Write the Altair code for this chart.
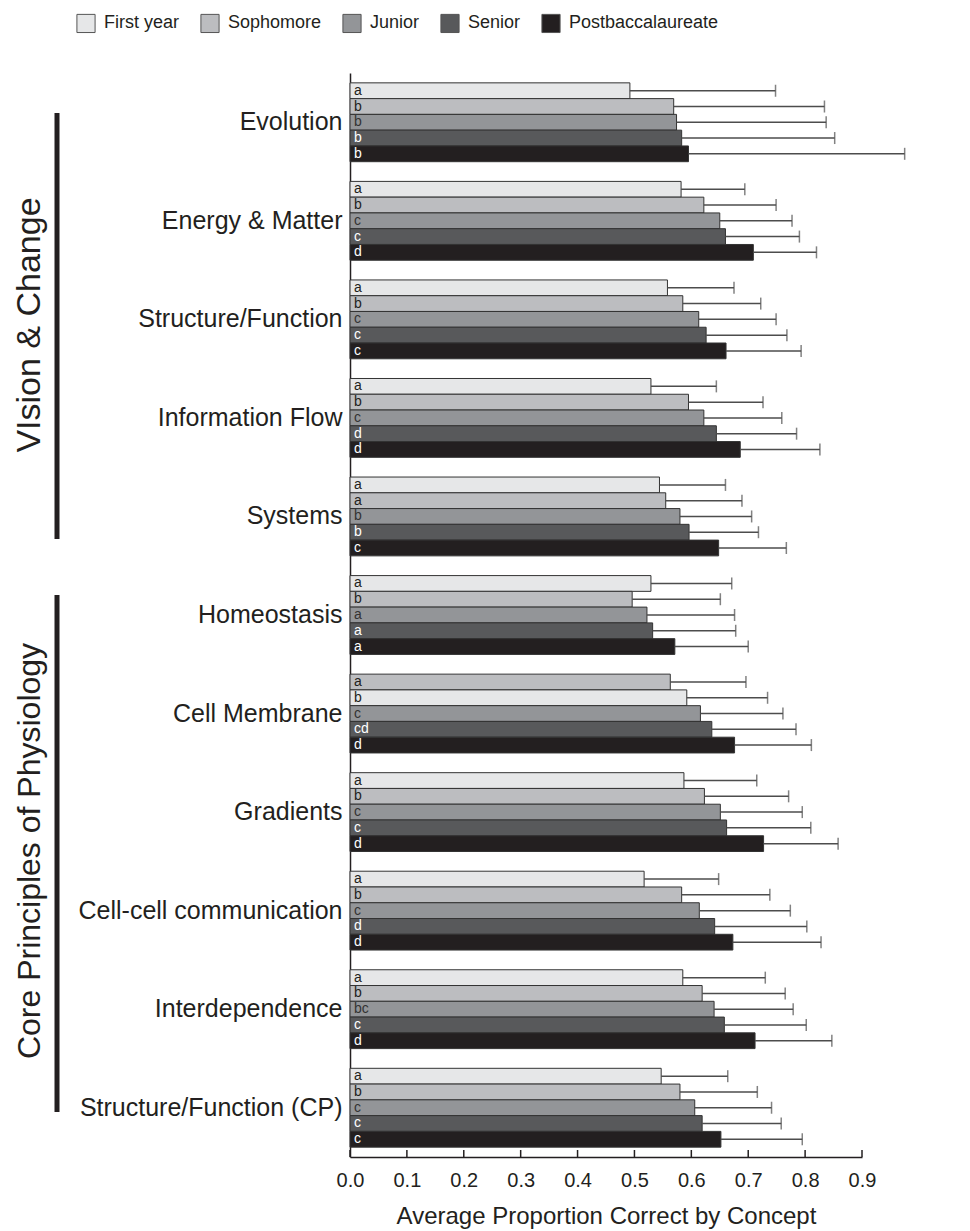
import altair as alt
import pandas as pd

# ---------------- data ----------------
concepts = ["Evolution", "Energy & Matter", "Structure/Function", "Information Flow", "Systems",
            "Homeostasis", "Cell Membrane", "Gradients", "Cell-cell communication",
            "Interdependence", "Structure/Function (CP)"]
classes = ["First year", "Sophomore", "Junior", "Senior", "Postbaccalaureate"]

# class of each bar (top to bottom) inside each concept group
bar_classes = [
    classes, classes, classes, classes, classes, classes,
    ["Sophomore", "First year", "Junior", "Senior", "Postbaccalaureate"],
    classes, classes, classes, classes,
]
means = [
    [0.492, 0.569, 0.574, 0.583, 0.595],
    [0.582, 0.622, 0.650, 0.660, 0.709],
    [0.558, 0.585, 0.613, 0.626, 0.661],
    [0.529, 0.595, 0.622, 0.644, 0.686],
    [0.544, 0.555, 0.580, 0.596, 0.648],
    [0.529, 0.496, 0.522, 0.532, 0.571],
    [0.563, 0.592, 0.616, 0.636, 0.676],
    [0.587, 0.623, 0.651, 0.662, 0.727],
    [0.517, 0.583, 0.614, 0.641, 0.673],
    [0.585, 0.619, 0.640, 0.658, 0.712],
    [0.547, 0.580, 0.606, 0.619, 0.652],
]
upper = [
    [0.748, 0.834, 0.837, 0.852, 0.975],
    [0.694, 0.749, 0.777, 0.790, 0.820],
    [0.675, 0.722, 0.749, 0.768, 0.793],
    [0.644, 0.726, 0.759, 0.785, 0.826],
    [0.660, 0.689, 0.706, 0.718, 0.767],
    [0.671, 0.651, 0.676, 0.678, 0.700],
    [0.696, 0.734, 0.761, 0.784, 0.811],
    [0.715, 0.771, 0.795, 0.810, 0.858],
    [0.648, 0.738, 0.774, 0.803, 0.828],
    [0.730, 0.765, 0.779, 0.802, 0.847],
    [0.664, 0.716, 0.741, 0.758, 0.795],
]
letters = [
    ["a", "b", "b", "b", "b"],
    ["a", "b", "c", "c", "d"],
    ["a", "b", "c", "c", "c"],
    ["a", "b", "c", "d", "d"],
    ["a", "a", "b", "b", "c"],
    ["a", "b", "a", "a", "a"],
    ["a", "b", "c", "cd", "d"],
    ["a", "b", "c", "c", "d"],
    ["a", "b", "c", "d", "d"],
    ["a", "b", "bc", "c", "d"],
    ["a", "b", "c", "c", "c"],
]
x_ticks = [0.0, 0.1, 0.2, 0.3, 0.4, 0.5, 0.6, 0.7, 0.8, 0.9]
group_titles = ["VIsion & Change", "Core Principles of Physiology"]

# ---------------- table ----------------
rows = []
for ci, c in enumerate(concepts):
    for r in range(5):
        rows.append({"concept": c, "row": r, "cls": bar_classes[ci][r],
                     "mean": means[ci][r], "upper": upper[ci][r], "letter": letters[ci][r]})
df = pd.DataFrame(rows)

FONT = "Liberation Sans"
W, H = 512, 1084
fill_colors = ["#e6e7e8", "#bcbdc0", "#939598", "#58595b", "#231f20"]
text_colors = ["#231f20", "#231f20", "#333333", "#ffffff", "#ffffff"]

y_enc = alt.Y("concept:N", sort=concepts,
              scale=alt.Scale(paddingInner=0.2, paddingOuter=0.1),
              axis=alt.Axis(title=None, labelFontSize=25, labelPadding=8, ticks=False,
                            labelLimit=0,
                            labelColor="#231f20", domainColor="#231f20", domainWidth=1.5,
                            labelFont=FONT))
yoff = alt.YOffset("row:O", scale=alt.Scale(paddingInner=0, paddingOuter=0))
x_scale = alt.Scale(domain=[0, 0.9], nice=False, zero=True)

base = alt.Chart(df)

bars = base.mark_bar(stroke="#333333", strokeWidth=1).encode(
    x=alt.X("mean:Q", scale=x_scale,
            axis=alt.Axis(values=x_ticks, format=".1f", ticks=False, grid=False,
                          labelFlush=False, labelOverlap=False,
                          labelFontSize=20, labelPadding=13, labelColor="#231f20",
                          labelFont=FONT,
                          title="Average Proportion Correct by Concept",
                          titleFontSize=24, titleFontWeight="normal", titleFont=FONT,
                          titleColor="#231f20", titlePadding=14,
                          domainColor="#231f20", domainWidth=1.5)),
    y=y_enc,
    yOffset=yoff,
    fill=alt.Fill("cls:N", scale=alt.Scale(domain=classes, range=fill_colors),
                  legend=alt.Legend(orient="none", legendX=-274, legendY=-60,
                                    direction="horizontal", title=None,
                                    symbolType="square", symbolSize=330,
                                    symbolStrokeColor="#555555", symbolStrokeWidth=1,
                                    labelFontSize=18, labelFont=FONT, labelColor="#231f20",
                                    columnPadding=18, labelOffset=8)),
)

err = base.mark_rule(color="#4d4d4d", strokeWidth=1.5).encode(
    x="mean:Q", x2="upper:Q", y=y_enc, yOffset=yoff)

caps = base.mark_tick(color="#4d4d4d", thickness=1.5, size=12, orient="vertical").encode(
    x="upper:Q", y=y_enc, yOffset=yoff)

labels = base.mark_text(align="left", baseline="middle", dx=4, fontSize=14, font=FONT).encode(
    x=alt.datum(0), y=y_enc, yOffset=yoff, text="letter:N",
    color=alt.Color("cls:N", scale=alt.Scale(domain=classes, range=text_colors), legend=None))

tick_df = pd.DataFrame({"v": x_ticks})
inner_ticks = alt.Chart(tick_df).mark_rule(color="#231f20", strokeWidth=1.5).encode(
    x=alt.X("v:Q", scale=x_scale), y=alt.value(H - 7), y2=alt.value(H))

one = pd.DataFrame({"a": [0]})
bracket1 = alt.Chart(one).mark_rule(color="#231f20", strokeWidth=5).encode(
    x=alt.value(-293), y=alt.value(40), y2=alt.value(466))
bracket2 = alt.Chart(one).mark_rule(color="#231f20", strokeWidth=5).encode(
    x=alt.value(-293), y=alt.value(522), y2=alt.value(1039))
title1 = alt.Chart(one).mark_text(angle=270, align="center", baseline="middle",
                                  fontSize=34, font=FONT, color="#231f20",
                                  text=group_titles[0]).encode(
    x=alt.value(-320), y=alt.value(252))
title2 = alt.Chart(one).mark_text(angle=270, align="center", baseline="middle",
                                  fontSize=32, font=FONT, color="#231f20",
                                  text=group_titles[1]).encode(
    x=alt.value(-320), y=alt.value(778))

chart = alt.layer(bars, err, caps, labels, inner_ticks,
                  bracket1, bracket2, title1, title2).resolve_scale(
    color="independent"
).properties(width=W, height=H).configure(
    font=FONT, view=alt.ViewConfig(stroke=None))

chart.save("out.html", embed_options={"renderer": "svg", "actions": False})
